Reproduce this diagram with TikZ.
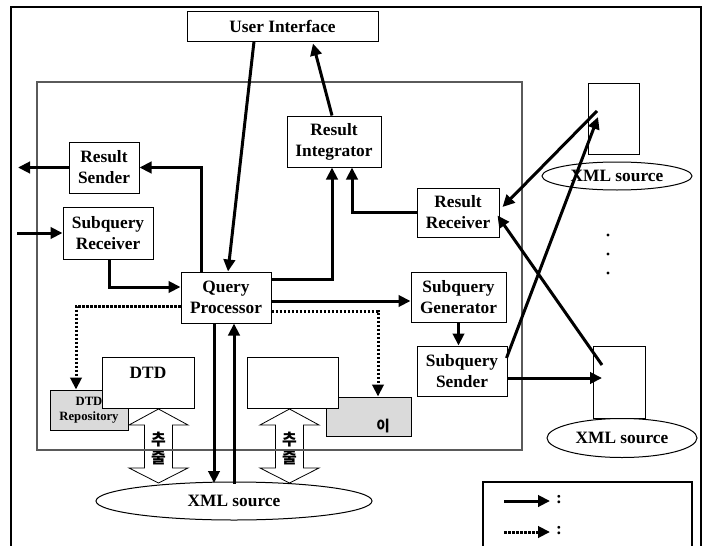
\documentclass[tikz,border=0pt]{standalone}
\usepackage{fontspec}
\setmainfont{Liberation Serif}
\newfontfamily\kr{Noto Sans CJK KR}
\usetikzlibrary{arrows.meta,calc,shapes.geometric}
\definecolor{boxgray}{RGB}{218,218,218}
\definecolor{framegray}{RGB}{90,90,90}
\tikzset{
  x=0.75pt, y=-0.75pt,
  sz/.style 2 args={minimum width=#1*0.75pt, minimum height=#2*0.75pt},
  box/.style={draw=black, line width=0.75pt, fill=white, align=center, inner sep=0pt,
    font=\fontsize{13}{15.75}\selectfont\bfseries},
  graybox/.style={box, fill=boxgray},
  src/.style={draw=black, line width=0.75pt, fill=white, ellipse, inner sep=0pt,
    font=\fontsize{13}{15.75}\selectfont\bfseries},
  arr/.style={line width=2.25pt, -{Triangle[length=9pt,width=8.5pt]}},
  darr/.style={arr, dash pattern=on 2pt off 1pt},
  blockarrow/.style={draw=black, line width=0.6pt, fill=white},
  hangul/.style={font=\kr\bfseries\fontsize{12}{13}\selectfont, inner sep=0pt},
}
\begin{document}
\begin{tikzpicture}
\useasboundingbox (0,0) rectangle (707,546);

% outer frame, open at the bottom
\draw[line width=1.6pt] (11,548) -- (11,7) -- (701,7) -- (701,548);

% two-headed block arrows (extraction)
\foreach \cx in {158.5, 289.5} {
  \draw[blockarrow] (\cx,409) -- (\cx+29.5,425) -- (\cx+14,425) -- (\cx+14,468)
    -- (\cx+29.5,468) -- (\cx,483) -- (\cx-29.5,468) -- (\cx-14,468)
    -- (\cx-14,425) -- (\cx-29.5,425) -- cycle;
  \node[hangul] (ch1\cx) at (\cx,440) {추};
  \node[hangul] (ch2\cx) at (\cx,457) {출};
}

% system boundary
\draw[draw=framegray, line width=0.8pt] (37,82) rectangle (522,450);

% components
\node[box, sz={191}{30}] (ui) at (282.5,26) {User Interface};
\node[box, sz={70}{51}] (rs) at (104,167.5) {Result\\Sender};
\node[box, sz={90}{52}] (sr) at (108,233) {Subquery\\Receiver};
\node[box, sz={90}{51}] (qp) at (226,297.5) {Query\\Processor};
\node[box, sz={94}{51}] (ri) at (334,141.5) {Result\\Integrator};
\node[box, sz={82}{49}] (rr) at (458,212.5) {Result\\Receiver};
\node[box, sz={95}{50}] (sg) at (458.5,297) {Subquery\\Generator};
\node[box, sz={90}{50}] (ss) at (462,371) {Subquery\\Sender};

% repositories
\node[graybox, sz={78}{40}] (repo) at (89,410) {};
\node[graybox, sz={85}{39}] (idx) at (368.5,416.5) {};
\node[box, sz={92}{51}] (dtd) at (148,382.5) {};
\node[box, sz={91}{51}] (doc) at (292.5,382.5) {};
\node[font=\fontsize{13}{15.75}\selectfont\bfseries] (dtdlbl) at (148,373) {DTD};
\node[align=center, inner sep=0pt, font=\fontsize{9.5}{11.5}\selectfont\bfseries]
  (repolbl) at (89,410.5) {DTD\\Repository};
\node[font=\kr\bfseries\fontsize{11}{12}\selectfont, inner sep=0pt] (idxlbl) at (383,426) {이};

% XML sources
\node[src, sz={276}{38}] (xmlb) at (234,501) {XML source};
\node[box, sz={51}{71}] (ru) at (613.5,118.5) {};
\node[src, sz={150}{28}] (xmlu) at (617,176) {XML source};
\node[box, sz={52}{72}] (rl) at (619,382) {};
\node[src, sz={150}{39}] (xmll) at (622,438) {XML source};
\foreach \yy in {235,254,273} \fill (608,\yy) circle[radius=1.6];

% free ends on the left
\coordinate (outL) at (18,167.5);
\coordinate (inL) at (17,233);

% connectors
\draw[arr] ($(ui.south)+(-28.5,0)$) -- ($(qp.north)+(2,0)$);
\draw[arr] ($(ri.north)+(-2,0)$) -- ($(ui.south)+(30.5,2)$);
\draw[arr] ($(qp.north)+(-25,0)$) |- (rs.east);
\draw[arr] (rs.west) -- (outL);
\draw[arr] (inL) -- (sr.west);
\draw[arr] ($(sr.south)+(1,0)$) |- ($(qp.west)+(0,-10.5)$);
\draw[arr] ($(qp.east)+(0,-18.5)$) -| ($(ri.south)+(-2,0)$);
\draw[arr] (rr.west) -| ($(ri.south)+(18,0)$);
\draw[arr] ($(qp.east)+(0,3.5)$) -- ($(sg.west)+(0,4)$);
\draw[arr] (sg.south) -- (sg.south |- ss.north);
\draw[darr] ($(qp.east)+(0,13.5)$) -| ($(idx.north)+(9.5,0)$);
\draw[darr] ($(qp.west)+(0,8.5)$) -| ($(repo.north)+(-13,0)$);
\draw[arr] ($(qp.south)+(-12,0)$) -- ($(qp.south)+(-12,159.5)$);
\draw[arr] ($(qp.south)+(8,160)$) -- ($(qp.south)+(8,0)$);
\draw[arr] ($(ru.center)+(-16.5,-7.5)$) -- ($(rr.east)+(3,-5.5)$);
\draw[arr] ($(ss.east)+(-1,-13)$) -- ($(ru.center)+(-15.5,-1.5)$);
\draw[arr] ($(rl.center)+(-17,-17)$) -- ($(rr.east)+(-2,3)$);
\draw[arr] ($(ss.east)+(0,7)$) -- ($(rl.center)+(-17,-4)$);

% legend
\draw[line width=0.9pt] (483,548) -- (483,482) -- (692,482) -- (692,548);
\coordinate (lg1a) at (504,501);
\coordinate (lg1b) at (550,501);
\coordinate (lg2a) at (504,532);
\coordinate (lg2b) at (550,532);
\draw[arr] (lg1a) -- (lg1b);
\draw[darr] (lg2a) -- (lg2b);
\node[font=\fontsize{13}{15}\selectfont\bfseries] (c1) at (559,500) {:};
\node[font=\fontsize{13}{15}\selectfont\bfseries] (c2) at (559,531) {:};
\end{tikzpicture}
\end{document}
